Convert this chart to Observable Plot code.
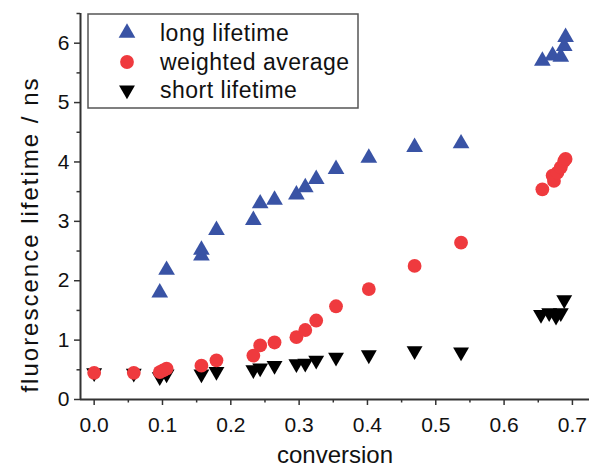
<!DOCTYPE html>
<html><head><meta charset="utf-8">
<script src="https://cdn.jsdelivr.net/npm/d3@7"></script>
<script src="https://cdn.jsdelivr.net/npm/@observablehq/plot@0.6"></script>
<style>
body{margin:0;background:#fff}
#chart{position:relative;width:600px;height:467px}
</style>
</head><body><div id="chart"></div>
<script>
// ---- data ----
const longX = [0.096, 0.106, 0.157, 0.157, 0.179, 0.233, 0.243, 0.264, 0.296, 0.309, 0.325, 0.354, 0.402, 0.469, 0.537, 0.656, 0.671, 0.683, 0.688, 0.690];
const longY = [1.80, 2.18, 2.42, 2.52, 2.85, 3.02, 3.30, 3.36, 3.45, 3.57, 3.71, 3.88, 4.07, 4.25, 4.31, 5.70, 5.79, 5.77, 5.95, 6.10];

const avgX = [0.0, 0.058, 0.096, 0.101, 0.106, 0.157, 0.179, 0.233, 0.243, 0.264, 0.296, 0.309, 0.325, 0.354, 0.402, 0.469, 0.537, 0.656, 0.671, 0.673, 0.678, 0.683, 0.688, 0.690];
const avgY = [0.45, 0.45, 0.46, 0.49, 0.52, 0.57, 0.66, 0.74, 0.91, 0.96, 1.05, 1.17, 1.33, 1.57, 1.86, 2.25, 2.64, 3.54, 3.77, 3.68, 3.82, 3.91, 4.02, 4.05];

const shortX = [0.0, 0.058, 0.096, 0.106, 0.157, 0.179, 0.233, 0.243, 0.264, 0.296, 0.309, 0.325, 0.354, 0.402, 0.469, 0.537, 0.654, 0.666, 0.676, 0.683, 0.688];
const shortY = [0.45, 0.44, 0.38, 0.43, 0.43, 0.47, 0.50, 0.53, 0.57, 0.60, 0.61, 0.66, 0.71, 0.75, 0.82, 0.80, 1.43, 1.46, 1.40, 1.46, 1.68];

const seriesNames = ["long lifetime", "weighted average", "short lifetime"];
const seriesColors = ["#3953a5", "#ef3a3e", "#000000"];

const xTickValues = [0.0, 0.1, 0.2, 0.3, 0.4, 0.5, 0.6, 0.7];
const xMinorTicks = [0.05, 0.15, 0.25, 0.35, 0.45, 0.55, 0.65];
const yTickValues = [0, 1, 2, 3, 4, 5, 6];
const yMinorTicks = [0.5, 1.5, 2.5, 3.5, 4.5, 5.5, 6.5];
const xDomain = [-0.02, 0.725];
const yDomain = [0, 6.5];
const xTitle = "conversion";
const yTitle = "fluorescence lifetime / ns";

// ---- helpers ----
const sqrt3 = Math.sqrt(3);
const triangleUp = {draw(ctx, size){ const y = -Math.sqrt(size/(sqrt3*3)); ctx.moveTo(0, y*2); ctx.lineTo(-sqrt3*y, -y); ctx.lineTo(sqrt3*y, -y); ctx.closePath(); }};
const triangleDown = {draw(ctx, size){ const y = -Math.sqrt(size/(sqrt3*3)); ctx.moveTo(0, -y*2); ctx.lineTo(-sqrt3*y, y); ctx.lineTo(sqrt3*y, y); ctx.closePath(); }};
const seriesSymbols = [triangleUp, d3.symbolCircle, triangleDown];
const seriesR = [6.2, 6.9, 5.9];

const toRows = (xs, ys) => xs.map((x, i) => ({x, y: ys[i]}));
const longData = toRows(longX, longY);
const avgData = toRows(avgX, avgY);
const shortData = toRows(shortX, shortY);

const axisColor = "#333";
const font = "'Liberation Sans', Arial, Helvetica, sans-serif";

const chart = Plot.plot({
  width: 600, height: 467,
  marginLeft: 80, marginRight: 11, marginTop: 13, marginBottom: 68,
  style: {fontFamily: font, fontSize: "21px", color: "#111", background: "white", overflow: "visible"},
  x: {domain: xDomain},
  y: {domain: yDomain},
  marks: [
    Plot.axisX(xTickValues, {tickSize: 6, tickPadding: 12, tickFormat: d3.format(".1f"), label: null, stroke: axisColor, strokeWidth: 1.5}),
    Plot.axisX(xMinorTicks, {tickSize: 3.5, tickFormat: () => "", label: null, stroke: axisColor, strokeWidth: 1.5}),
    Plot.axisY(yTickValues, {tickSize: 6, tickPadding: 5, tickFormat: d3.format("d"), label: null, stroke: axisColor, strokeWidth: 1.5}),
    Plot.axisY(yMinorTicks, {tickSize: 3.5, tickFormat: () => "", label: null, stroke: axisColor, strokeWidth: 1.5}),
    Plot.ruleY([yDomain[0]], {stroke: axisColor, strokeWidth: 2}),
    Plot.ruleX([xDomain[0]], {stroke: axisColor, strokeWidth: 2}),
    Plot.dot(shortData, {x: "x", y: "y", symbol: () => seriesSymbols[2], r: seriesR[2], fill: seriesColors[2]}),
    Plot.dot(avgData, {x: "x", y: "y", symbol: () => seriesSymbols[1], r: seriesR[1], fill: seriesColors[1]}),
    Plot.dot(longData, {x: "x", y: "y", symbol: () => seriesSymbols[0], r: seriesR[0], fill: seriesColors[0]}),
    Plot.text([xTitle], {frameAnchor: "bottom", lineAnchor: "middle", textAnchor: "middle", dy: 56, fontSize: 24, fill: "#111"}),
    Plot.text([yTitle], {frameAnchor: "left", textAnchor: "middle", lineAnchor: "middle", rotate: -90, dx: -50, dy: 28, fontSize: 24, fill: "#111"})
  ]
});
document.getElementById("chart").appendChild(chart);

const svg = d3.select(chart.tagName.toLowerCase() === "svg" ? chart : chart.querySelector("svg"));
// widen the y title's letter spacing to match the reference's width
svg.selectAll("text").filter(function(){ return this.textContent === yTitle; }).style("letter-spacing", "2px");

// ---- legend (inside plot area, top-left) ----
const lg = svg.append("g").attr("font-family", font).attr("font-size", 23).attr("text-anchor", "start").style("letter-spacing", "0.5px");
lg.append("rect").attr("x", 88).attr("y", 14).attr("width", 270).attr("height", 94)
  .attr("fill", "white").attr("stroke", "#555").attr("stroke-width", 1.5);
const rowY = [33, 62, 90];
seriesNames.forEach((name, i) => {
  const size = Math.PI * seriesR[i] * seriesR[i];
  lg.append("path").attr("d", d3.symbol(seriesSymbols[i], size)())
    .attr("transform", `translate(127,${rowY[i]})`).attr("fill", seriesColors[i]);
  lg.append("text").attr("x", 160).attr("y", rowY[i]).attr("dy", "0.35em").attr("text-anchor", "start").attr("fill", "#111").text(name);
});
</script>
</body></html>
